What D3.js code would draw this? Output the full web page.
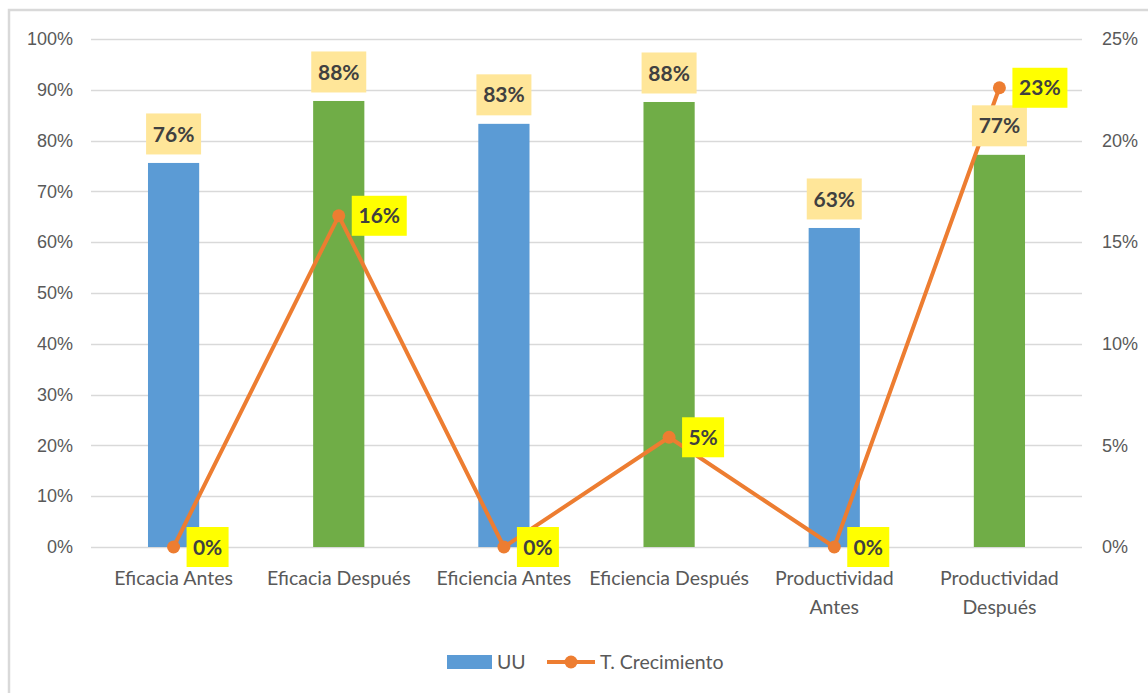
<!DOCTYPE html>
<html>
<head>
<meta charset="utf-8">
<script src="https://cdn.jsdelivr.net/npm/d3@7"></script>
<style>
  body { margin: 0; background: #fff; }
  svg { display: block; font-family: Lato, "Open Sans", sans-serif; }
</style>
</head>
<body>
<div id="chart"></div>
<script>
var categories = [["Eficacia Antes"], ["Eficacia Después"], ["Eficiencia Antes"], ["Eficiencia Después"], ["Productividad", "Antes"], ["Productividad", "Después"]];
var uu = [0.756, 0.878, 0.833, 0.876, 0.628, 0.772];
var barLabels = ["76%", "88%", "83%", "88%", "63%", "77%"];
var crecimiento = [0, 0.163, 0, 0.054, 0, 0.226];
var lineLabels = ["0%", "16%", "0%", "5%", "0%", "23%"];
var barColors = ["#5B9BD5", "#70AD47", "#5B9BD5", "#70AD47", "#5B9BD5", "#70AD47"];
var leftTicks = d3.range(0, 1.0001, 0.1);
var rightTicks = d3.range(0, 0.2501, 0.05);

var W = 1148, H = 693,
    margin = {top: 39, right: 66, bottom: 146, left: 91},
    width = W - margin.left - margin.right,
    height = H - margin.top - margin.bottom;

var svg = d3.select("#chart").append("svg")
    .attr("width", W)
    .attr("height", H);

// chart frame
svg.append("rect")
    .attr("x", 9).attr("y", 10)
    .attr("width", W + 20).attr("height", H + 20)
    .attr("fill", "#fff")
    .attr("stroke", "#D9D9D9")
    .attr("stroke-width", 2.5);

var g = svg.append("g").attr("transform", "translate(" + margin.left + "," + margin.top + ")");

var x = d3.scaleBand()
    .domain(d3.range(categories.length))
    .range([0, width])
    .paddingInner(0.69)
    .paddingOuter(0.345);

var y = d3.scaleLinear().domain([0, 1]).range([height, 0]);
var y2 = d3.scaleLinear().domain([0, 0.25]).range([height, 0]);

// gridlines
g.append("g")
  .selectAll("line")
  .data(leftTicks)
  .enter().append("line")
    .attr("x1", 0).attr("x2", width)
    .attr("y1", function(d) { return Math.round(y(d)) + 0.5; })
    .attr("y2", function(d) { return Math.round(y(d)) + 0.5; })
    .attr("stroke", "#D9D9D9")
    .attr("stroke-width", 1.3);

// left axis
var yAxis = g.append("g")
    .call(d3.axisLeft(y).tickValues(leftTicks).tickFormat(d3.format(".0%")).tickSize(0).tickPadding(18));
yAxis.select(".domain").remove();
yAxis.selectAll("text").attr("fill", "#595959").attr("font-size", 18);

// right axis
var yAxis2 = g.append("g")
    .attr("transform", "translate(" + width + ",0)")
    .call(d3.axisRight(y2).tickValues(rightTicks).tickFormat(d3.format(".0%")).tickSize(0).tickPadding(20));
yAxis2.select(".domain").remove();
yAxis2.selectAll("text").attr("fill", "#595959").attr("font-size", 18);

// category labels
var cat = g.append("g").selectAll("text")
    .data(categories)
    .enter().append("text")
    .attr("x", function(d, i) { return x(i) + x.bandwidth() / 2; })
    .attr("y", height + 38)
    .attr("text-anchor", "middle")
    .attr("fill", "#595959")
    .attr("font-size", 19.5);
cat.selectAll("tspan")
    .data(function(d) { return d; })
    .enter().append("tspan")
    .attr("x", function() { return this.parentNode.getAttribute("x"); })
    .attr("dy", function(d, i) { return i === 0 ? 0 : 29; })
    .text(function(d) { return d; });

// bars
g.append("g").selectAll("rect")
    .data(uu)
    .enter().append("rect")
    .attr("x", function(d, i) { return x(i); })
    .attr("y", function(d) { return y(d); })
    .attr("width", x.bandwidth())
    .attr("height", function(d) { return height - y(d); })
    .attr("fill", function(d, i) { return barColors[i]; });

// line
var cx = function(d, i) { return x(i) + x.bandwidth() / 2; };
g.append("path")
    .datum(crecimiento)
    .attr("fill", "none")
    .attr("stroke", "#ED7D31")
    .attr("stroke-width", 4)
    .attr("stroke-linejoin", "round")
    .attr("d", d3.line().x(cx).y(function(d) { return y2(d); }));

g.append("g").selectAll("circle")
    .data(crecimiento)
    .enter().append("circle")
    .attr("cx", cx)
    .attr("cy", function(d) { return y2(d); })
    .attr("r", 6.5)
    .attr("fill", "#ED7D31");

// bar labels (drawn above the line)
var bl = g.append("g").selectAll("g")
    .data(uu)
    .enter().append("g")
    .attr("transform", function(d, i) { return "translate(" + (x(i) + x.bandwidth() / 2) + "," + (y(d) - 29) + ")"; });
bl.append("rect")
    .attr("x", -27.5).attr("y", -20.5)
    .attr("width", 55).attr("height", 41)
    .attr("fill", "#FFE699");
bl.append("text")
    .attr("text-anchor", "middle")
    .attr("dy", "0.36em")
    .attr("font-size", 21)
    .attr("font-weight", "bold")
    .attr("fill", "#404040")
    .text(function(d, i) { return barLabels[i]; });

// line labels
var ll = g.append("g").selectAll("g")
    .data(crecimiento)
    .enter().append("g")
    .attr("transform", function(d, i) { return "translate(" + (cx(d, i) + 13) + "," + y2(d) + ")"; });
ll.append("rect")
    .attr("x", 0).attr("y", -20)
    .attr("width", function(d, i) { return lineLabels[i].length > 2 ? 55 : 42; })
    .attr("height", 40)
    .attr("fill", "#FFFF00");
ll.append("text")
    .attr("x", function(d, i) { return lineLabels[i].length > 2 ? 27.5 : 21; })
    .attr("text-anchor", "middle")
    .attr("dy", "0.36em")
    .attr("font-size", 21)
    .attr("font-weight", "bold")
    .attr("fill", "#404040")
    .text(function(d, i) { return lineLabels[i]; });

// legend
var legend = svg.append("g").attr("transform", "translate(0,662)");
legend.append("rect")
    .attr("x", 447).attr("y", -7)
    .attr("width", 45).attr("height", 14)
    .attr("fill", "#5B9BD5");
legend.append("text")
    .attr("x", 497).attr("dy", "0.35em")
    .attr("font-size", 19.5).attr("fill", "#595959")
    .text("UU");
legend.append("line")
    .attr("x1", 547).attr("x2", 595)
    .attr("stroke", "#ED7D31").attr("stroke-width", 4);
legend.append("circle")
    .attr("cx", 571).attr("r", 6.5).attr("fill", "#ED7D31");
legend.append("text")
    .attr("x", 600).attr("dy", "0.35em")
    .attr("font-size", 19.5).attr("fill", "#595959")
    .text("T. Crecimiento");
</script>
</body>
</html>
